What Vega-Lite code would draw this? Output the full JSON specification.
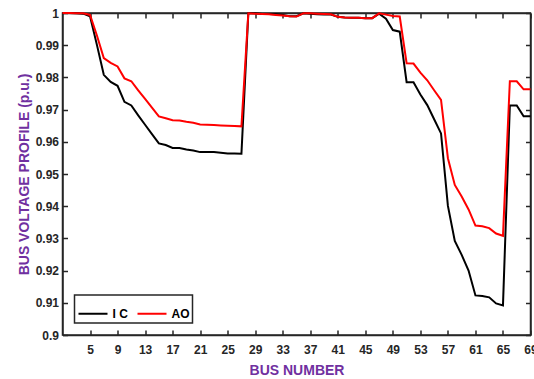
{
  "$schema": "https://vega.github.io/schema/vega-lite/v6.json",
  "width": 468,
  "height": 322,
  "autosize": {"type": "none"},
  "padding": {"left": 62.5, "top": 13, "right": 4, "bottom": 44},
  "background": "white",
  "config": {
    "font": "Liberation Sans",
    "view": {"stroke": "#262626", "strokeWidth": 1.5},
    "legend": {"strokeWidth": 1.5},
    "axis": {
      "domainColor": "#262626",
      "domainWidth": 1.5,
      "tickColor": "#262626",
      "tickWidth": 1.5,
      "tickSize": -5,
      "grid": false,
      "labelFont": "Liberation Sans",
      "labelFontWeight": "bold",
      "labelFontSize": 12,
      "labelColor": "#262626",
      "titleFont": "Liberation Sans",
      "titleFontWeight": "bold",
      "titleFontSize": 14,
      "titleColor": "#7030A0"
    }
  },
  "data": {
    "values": [
      {"bus": 1, "IC": 1.0, "AO": 1.0},
      {"bus": 2, "IC": 1.0, "AO": 1.0},
      {"bus": 3, "IC": 0.9999, "AO": 0.9999},
      {"bus": 4, "IC": 0.9998, "AO": 0.9999},
      {"bus": 5, "IC": 0.999, "AO": 0.9994},
      {"bus": 6, "IC": 0.9901, "AO": 0.993},
      {"bus": 7, "IC": 0.9808, "AO": 0.986},
      {"bus": 8, "IC": 0.9786, "AO": 0.9845},
      {"bus": 9, "IC": 0.9774, "AO": 0.9834},
      {"bus": 10, "IC": 0.9724, "AO": 0.9797},
      {"bus": 11, "IC": 0.9713, "AO": 0.9788},
      {"bus": 12, "IC": 0.9682, "AO": 0.976},
      {"bus": 13, "IC": 0.9653, "AO": 0.9733},
      {"bus": 14, "IC": 0.9624, "AO": 0.9706},
      {"bus": 15, "IC": 0.9595, "AO": 0.9679},
      {"bus": 16, "IC": 0.959, "AO": 0.9673},
      {"bus": 17, "IC": 0.9581, "AO": 0.9667},
      {"bus": 18, "IC": 0.9581, "AO": 0.9666},
      {"bus": 19, "IC": 0.9576, "AO": 0.9662},
      {"bus": 20, "IC": 0.9573, "AO": 0.9659},
      {"bus": 21, "IC": 0.9568, "AO": 0.9654},
      {"bus": 22, "IC": 0.9568, "AO": 0.9653},
      {"bus": 23, "IC": 0.9568, "AO": 0.9652},
      {"bus": 24, "IC": 0.9566, "AO": 0.9651},
      {"bus": 25, "IC": 0.9564, "AO": 0.965},
      {"bus": 26, "IC": 0.9564, "AO": 0.9649},
      {"bus": 27, "IC": 0.9563, "AO": 0.9648},
      {"bus": 28, "IC": 0.9999, "AO": 0.9999},
      {"bus": 29, "IC": 0.9999, "AO": 0.9998},
      {"bus": 30, "IC": 0.9997, "AO": 0.9997},
      {"bus": 31, "IC": 0.9997, "AO": 0.9996},
      {"bus": 32, "IC": 0.9996, "AO": 0.9994},
      {"bus": 33, "IC": 0.9994, "AO": 0.9992},
      {"bus": 34, "IC": 0.999, "AO": 0.999},
      {"bus": 35, "IC": 0.999, "AO": 0.9989},
      {"bus": 36, "IC": 0.9999, "AO": 0.9999},
      {"bus": 37, "IC": 0.9998, "AO": 0.9999},
      {"bus": 38, "IC": 0.9996, "AO": 0.9998},
      {"bus": 39, "IC": 0.9995, "AO": 0.9997},
      {"bus": 40, "IC": 0.9995, "AO": 0.9996},
      {"bus": 41, "IC": 0.9988, "AO": 0.9988},
      {"bus": 42, "IC": 0.9986, "AO": 0.9986},
      {"bus": 43, "IC": 0.9985, "AO": 0.9985},
      {"bus": 44, "IC": 0.9985, "AO": 0.9985},
      {"bus": 45, "IC": 0.9984, "AO": 0.9984},
      {"bus": 46, "IC": 0.9984, "AO": 0.9984},
      {"bus": 47, "IC": 0.9998, "AO": 0.9999},
      {"bus": 48, "IC": 0.9982, "AO": 0.9995},
      {"bus": 49, "IC": 0.9947, "AO": 0.9991},
      {"bus": 50, "IC": 0.9942, "AO": 0.9989},
      {"bus": 51, "IC": 0.9785, "AO": 0.9844},
      {"bus": 52, "IC": 0.9785, "AO": 0.9843},
      {"bus": 53, "IC": 0.9747, "AO": 0.9815},
      {"bus": 54, "IC": 0.9714, "AO": 0.9791},
      {"bus": 55, "IC": 0.967, "AO": 0.976},
      {"bus": 56, "IC": 0.9626, "AO": 0.973},
      {"bus": 57, "IC": 0.9401, "AO": 0.9549},
      {"bus": 58, "IC": 0.9292, "AO": 0.9466},
      {"bus": 59, "IC": 0.9249, "AO": 0.943},
      {"bus": 60, "IC": 0.92, "AO": 0.939},
      {"bus": 61, "IC": 0.9123, "AO": 0.934},
      {"bus": 62, "IC": 0.9121, "AO": 0.9338},
      {"bus": 63, "IC": 0.9117, "AO": 0.9332},
      {"bus": 64, "IC": 0.9098, "AO": 0.9315},
      {"bus": 65, "IC": 0.9092, "AO": 0.9308},
      {"bus": 66, "IC": 0.9713, "AO": 0.9788},
      {"bus": 67, "IC": 0.9713, "AO": 0.9788},
      {"bus": 68, "IC": 0.9679, "AO": 0.9763},
      {"bus": 69, "IC": 0.9679, "AO": 0.9763}
    ]
  },
  "transform": [{"fold": ["IC", "AO"], "as": ["series", "voltage"]}],
  "layer": [
    {
      "mark": {"type": "line", "strokeWidth": 2},
      "encoding": {
        "x": {
          "field": "bus", "type": "quantitative",
          "scale": {"domain": [1, 69], "nice": false, "zero": false},
          "axis": {
            "orient": "bottom",
            "values": [5, 9, 13, 17, 21, 25, 29, 33, 37, 41, 45, 49, 53, 57, 61, 65, 69],
            "title": "BUS NUMBER",
            "labelPadding": 14,
            "titlePadding": 8,
            "labelFlush": false,
            "labelOverlap": false
          }
        },
        "y": {
          "field": "voltage", "type": "quantitative",
          "scale": {"domain": [0.9, 1], "nice": false, "zero": false},
          "axis": {
            "orient": "left",
            "values": [0.9, 0.91, 0.92, 0.93, 0.94, 0.95, 0.96, 0.97, 0.98, 0.99, 1],
            "format": ".2~f",
            "title": "BUS VOLTAGE PROFILE (p.u.)",
            "labelPadding": 9,
            "titlePadding": 4,
            "labelFlush": false,
            "labelOverlap": false
          }
        },
        "color": {
          "field": "series", "type": "nominal",
          "scale": {"domain": ["IC", "AO"], "range": ["#000000", "#ff0000"]},
          "legend": {
            "title": null,
            "orient": "bottom-left",
            "direction": "horizontal",
            "offset": 12,
            "strokeColor": "#262626",
            "fillColor": "white",
            "padding": 3,
            "symbolType": "stroke",
            "symbolSize": 841,
            "symbolStrokeWidth": 2,
            "labelFont": "Liberation Sans",
            "labelFontWeight": "bold",
            "labelFontSize": 12,
            "labelColor": "#000000",
            "labelOffset": 4,
            "columnPadding": 5,
            "labelExpr": "datum.label == 'IC' ? 'I C' : 'AO'"
          }
        }
      }
    },
    {
      "mark": {"type": "line", "opacity": 0},
      "encoding": {
        "x": {
          "field": "bus", "type": "quantitative",
          "axis": {
            "orient": "top", "labels": false, "title": null,
            "values": [5, 9, 13, 17, 21, 25, 29, 33, 37, 41, 45, 49, 53, 57, 61, 65, 69]
          }
        },
        "y": {
          "field": "voltage", "type": "quantitative",
          "axis": {
            "orient": "right", "labels": false, "title": null,
            "values": [0.9, 0.91, 0.92, 0.93, 0.94, 0.95, 0.96, 0.97, 0.98, 0.99, 1]
          }
        },
        "detail": {"field": "series"}
      }
    }
  ],
  "resolve": {"axis": {"x": "independent", "y": "independent"}}
}
